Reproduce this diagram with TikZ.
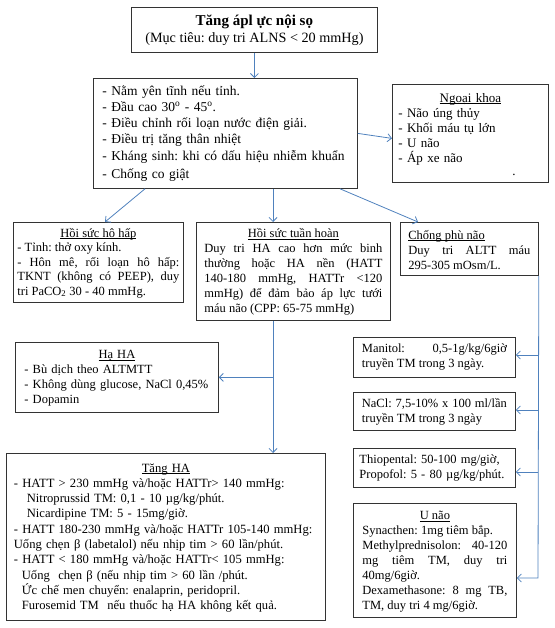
\documentclass[tikz,border=0pt]{standalone}
\usepackage{fontspec}
\setmainfont{Liberation Serif}
\usetikzlibrary{arrows.meta}
\definecolor{linkblue}{RGB}{79,129,189}
\newcommand{\headtext}[1]{\strut\underline{\smash{#1}}}
\frenchspacing

\begin{document}
\begin{tikzpicture}[x=1pt, y=-1pt,
		box/.style={draw=black!80, line width=0.8pt, inner xsep=0pt, inner ysep=2pt, anchor=north west, font=\fontsize{12.5}{15}\selectfont},
		link/.style={draw=linkblue, line width=0.8pt},
		>={Straight Barb[length=4pt,width=8pt]}]
		\useasboundingbox (0,0) rectangle (554,628);

		% main column
		\node[box, minimum width=246pt, minimum height=45pt, align=center, font=\fontsize{14.2}{17}\selectfont] (title) at (131,7)
			{{\fontsize{15}{17}\selectfont\textbf{Tăng ápl ực nội sọ}}\\(Mục tiêu: duy tri ALNS < 20 mmHg)};
		\node[box, minimum width=264pt, minimum height=110pt, text width=246pt, align=left, font=\fontsize{13.5}{16.2}\selectfont] (gen) at (93,78)
			{- Nằm yên tĩnh nếu tỉnh.\\- Đầu cao 30\textsuperscript{o} - 45\textsuperscript{o}.\\- Điều chỉnh rối loạn nước điện giải.\\- Điều trị tăng thân nhiệt\\- Kháng sinh: khi có dấu hiệu nhiễm khuẩn\\[2pt]- Chống co giật};
		\node[box, minimum width=156pt, minimum height=98pt, text width=144pt, align=left, font=\fontsize{13}{15}\selectfont] (ngoai) at (392,84)
			{\centerline{\headtext{Ngoại khoa}}\par- Não úng thủy\\- Khối máu tụ lớn\\- U não\\- Áp xe não\\[-2pt]\hspace*{114pt}.};

		% second row
		\node[box, minimum width=170pt, minimum height=80pt, text width=162pt, align=justify, font=\fontsize{12.5}{14.5}\selectfont] (hohap) at (13,222)
			{\centerline{\headtext{Hồi sức hô hấp}}\par- Tỉnh: thở oxy kính.\par- Hôn mê, rối loạn hô hấp:\linebreak TKNT (không có PEEP), duy\linebreak tri PaCO\textsubscript{2} 30 - 40 mmHg.};
		\node[box, minimum width=194pt, minimum height=98pt, text width=178pt, align=justify] (tuanhoan) at (196,222)
			{\centerline{\headtext{Hồi sức tuần hoàn}}\par Duy tri HA cao hơn mức binh\linebreak thường hoặc HA nền (HATT\linebreak 140-180 mmHg, HATTr <120\linebreak mmHg) để đảm bảo áp lực tưới\linebreak máu não (CPP: 65-75 mmHg)};
		\node[box, minimum width=138pt, minimum height=53pt, text width=122pt, align=justify] (phunao) at (400,222)
			{\headtext{Chống phù não}\par Duy tri ALTT máu\linebreak 295-305 mOsm/L.};

		% left column
		\node[box, minimum width=203pt, minimum height=70pt, text width=185pt, align=left] (haha) at (15,342)
			{\centerline{\headtext{Hạ HA}}\par- Bù dịch theo ALTMTT\\- Không dùng glucose, NaCl 0,45\%\\- Dopamin};
		\node[box, minimum width=319pt, minimum height=167pt, text width=304pt, align=left, font=\fontsize{12.6}{15.3}\selectfont] (tangha) at (6,453)
			{\centerline{\headtext{Tăng HA}}\par- HATT > 230 mmHg và/hoặc HATTr> 140 mmHg:\\
			\hspace*{13pt}Nitroprussid TM: 0,1 - 10 µg/kg/phút.\\
			\hspace*{13pt}Nicardipine TM: 5 - 15mg/giờ.\\
			- HATT 180-230 mmHg và/hoặc HATTr 105-140 mmHg:\\
			Uống chẹn β (labetalol) nếu nhịp tim > 60 lần/phút.\\
			- HATT < 180 mmHg và/hoặc HATTr< 105 mmHg:\\
			\hspace*{8pt}Uống \ chẹn β (nếu nhịp tim > 60 lần /phút.\\
			\hspace*{8pt}Ức chế men chuyển: enalaprin, peridopril.\\
			\hspace*{8pt}Furosemid TM \ nếu thuốc hạ HA không kết quả.};

		% right column
		\node[box, minimum width=162pt, minimum height=40pt, text width=145pt, align=justify] (manitol) at (353,337)
			{Manitol: 0,5-1g/kg/6giờ\linebreak truyền TM trong 3 ngày.};
		\node[box, minimum width=162pt, minimum height=38pt, text width=145pt, align=justify] (nacl) at (353,392)
			{NaCl: 7,5-10\% x 100 ml/lần\linebreak truyền TM trong 3 ngày};
		\node[box, minimum width=162pt, minimum height=39pt, text width=150pt, align=left] (thio) at (353,448)
			{Thiopental: 50-100 mg/giờ,\\Propofol: 5 - 80 µg/kg/phút.};
		\node[box, minimum width=163pt, minimum height=114pt, text width=145pt, align=justify] (unao) at (353,503)
			{\centerline{\headtext{U não}}\par Synacthen: 1mg tiêm bắp.\par Methylprednisolon: 40-120\linebreak mg tiêm TM, duy tri\linebreak 40mg/6giờ.\par Dexamethasone: 8 mg TB,\linebreak TM, duy tri 4 mg/6giờ.};

		% connectors
		\coordinate (spine) at (273,0);
		\coordinate (busend) at (538,578);
		\draw[link, ->] (title.south) -- (title.south |- gen.north);
		\draw[link, ->] (gen.east) -- ([yshift=-5pt]ngoai.west);
		\draw[link, ->] ([xshift=52pt]gen.south west) -- ([xshift=92pt]hohap.north west);
		\draw[link, ->] (gen.south -| spine) -- (tuanhoan.north -| spine);
		\draw[link, ->] ([xshift=247pt]gen.south west) -- ([xshift=18pt]phunao.north west);
		\draw[link, ->] (tuanhoan.south -| spine) -- (tangha.north -| spine);
		\draw[link, ->] (spine |- haha.east) -- (haha.east);
		\draw[link, ->] (phunao.south east) -- (busend) -- (busend -| unao.east);
		\foreach \target/\y in {manitol/355, nacl/410, thio/472}
			\draw[link, ->] (538,\y) -- (\target.east |- 0,\y);
	\end{tikzpicture}
\end{document}
